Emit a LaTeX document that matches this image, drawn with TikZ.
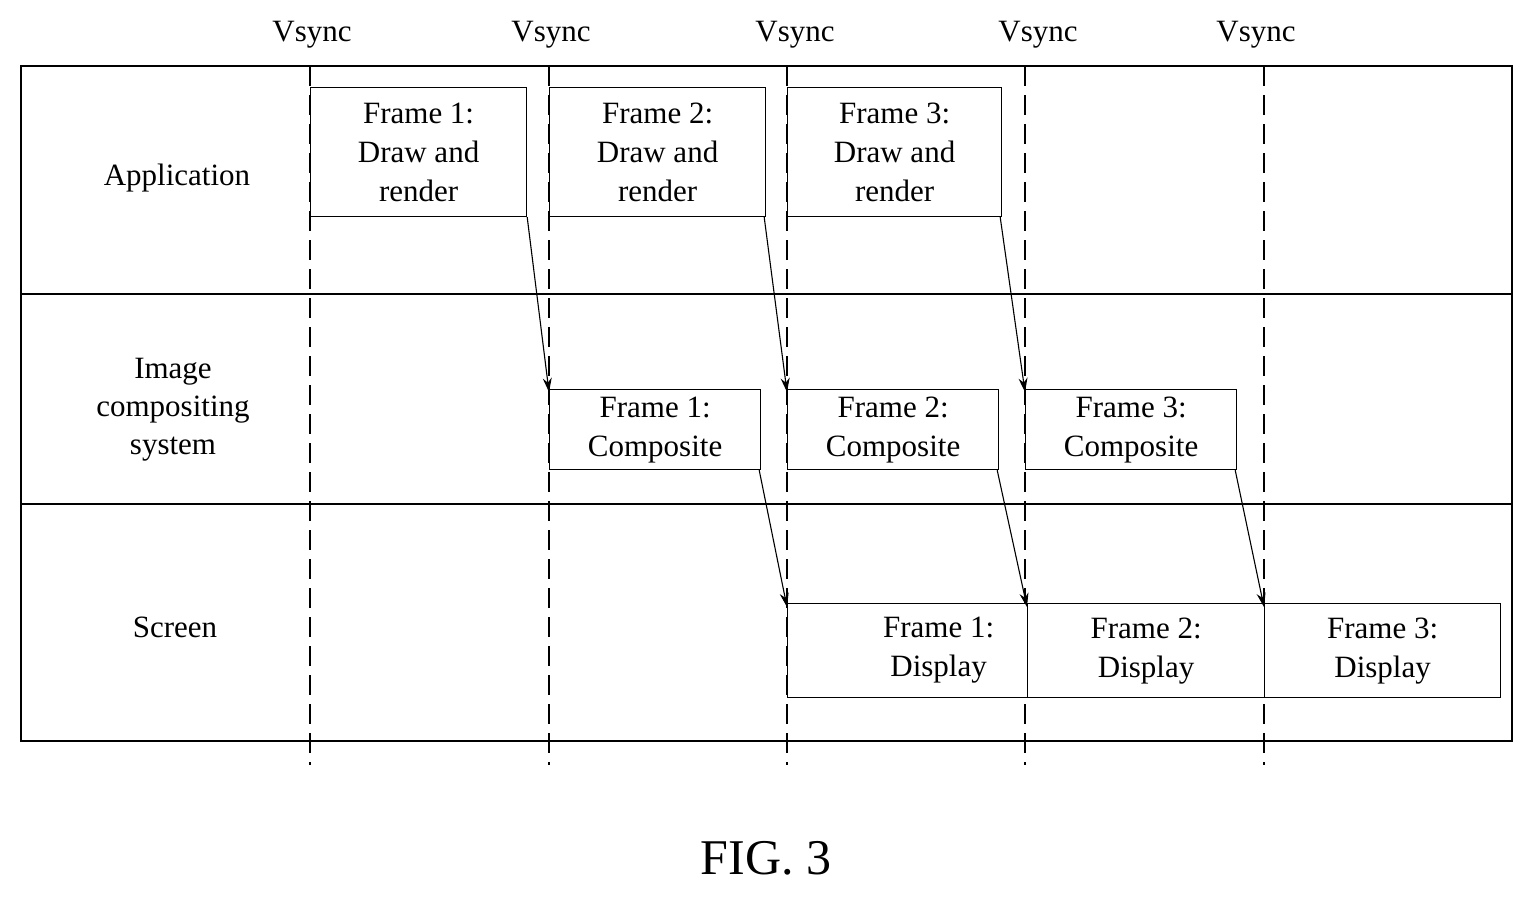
\documentclass[tikz,border=0pt]{standalone}
\usepackage{fontspec}
\setmainfont{Liberation Serif}
\usetikzlibrary{arrows.meta}
\begin{document}
\begin{tikzpicture}[x=1pt,y=-1pt,
 box/.style={draw,line width=1.2pt,inner sep=0pt,align=center,font=\fontsize{31}{39}\selectfont},
 lbl/.style={align=center,font=\fontsize{31}{48}\selectfont},
 vline/.style={line width=1.2pt,dash pattern=on 20pt off 9pt},
 arr/.style={line width=1.1pt,-{Stealth[length=14pt,width=9pt]}}]
\useasboundingbox (0,0) rectangle (1535,900);
\draw[line width=1.3pt] (21,66) rectangle (1512,741);
\draw[line width=1.3pt] (21,294) -- (1512,294) (21,504) -- (1512,504);
\foreach \x/\lx [count=\i] in {310/312,549/551,787/795,1025/1038,1264/1256}{
  \draw[vline] (\x,66) -- (\x,765);
  \node[lbl] (v\i) at (\lx,35) {Vsync};
}
\node[lbl] (la) at (177,178) {Application};
\node[lbl] (lc) at (173,410) {Image\\[-10pt]compositing\\[-10pt]system};
\node[lbl] (ls) at (175,627) {Screen};
% application
\node[box,fill=white,minimum width=216pt,minimum height=129pt,anchor=north west] (a1) at (310,87) {Frame 1:\\Draw and\\render};
\node[box,fill=white,minimum width=216pt,minimum height=129pt,anchor=north west] (a2) at (549,87) {Frame 2:\\Draw and\\render};
\node[box,fill=white,minimum width=214pt,minimum height=129pt,anchor=north west] (a3) at (787,87) {Frame 3:\\Draw and\\render};
% composite
\node[box,fill=white,minimum width=211pt,minimum height=80pt,anchor=north west] (c1) at (549,389) {Frame 1:\\Composite};
\node[box,fill=white,minimum width=211pt,minimum height=80pt,anchor=north west] (c2) at (787,389) {Frame 2:\\Composite};
\node[box,fill=white,minimum width=211pt,minimum height=80pt,anchor=north west] (c3) at (1025,389) {Frame 3:\\Composite};
% screen
\node[box,fill=white,minimum width=240pt,minimum height=94pt,anchor=north west] (s1) at (787,603) {\hspace*{2em}Frame 1:\\\hspace*{2em}Display};
\node[box,fill=white,minimum width=237pt,minimum height=94pt,anchor=north west] (s2) at (1027,603) {Frame 2:\\Display};
\node[box,fill=white,minimum width=236pt,minimum height=94pt,anchor=north west] (s3) at (1264,603) {Frame 3:\\Display};
\draw[arr] (a1.south east) -- ([yshift=-3pt]c1.north west);
\draw[arr] ([xshift=-2pt]a2.south east) -- ([yshift=-3pt]c2.north west);
\draw[arr] ([xshift=-2pt]a3.south east) -- ([yshift=-3pt]c3.north west);
\draw[arr] ([xshift=-2pt]c1.south east) -- ([yshift=-4pt]s1.north west);
\draw[arr] ([xshift=-2pt]c2.south east) -- ([yshift=-4pt]s2.north west);
\draw[arr] ([xshift=-2pt]c3.south east) -- ([yshift=-4pt]s3.north west);
\node[font=\fontsize{50}{60}\selectfont] (fig) at (766,858) {FIG. 3};
\end{tikzpicture}
\end{document}
